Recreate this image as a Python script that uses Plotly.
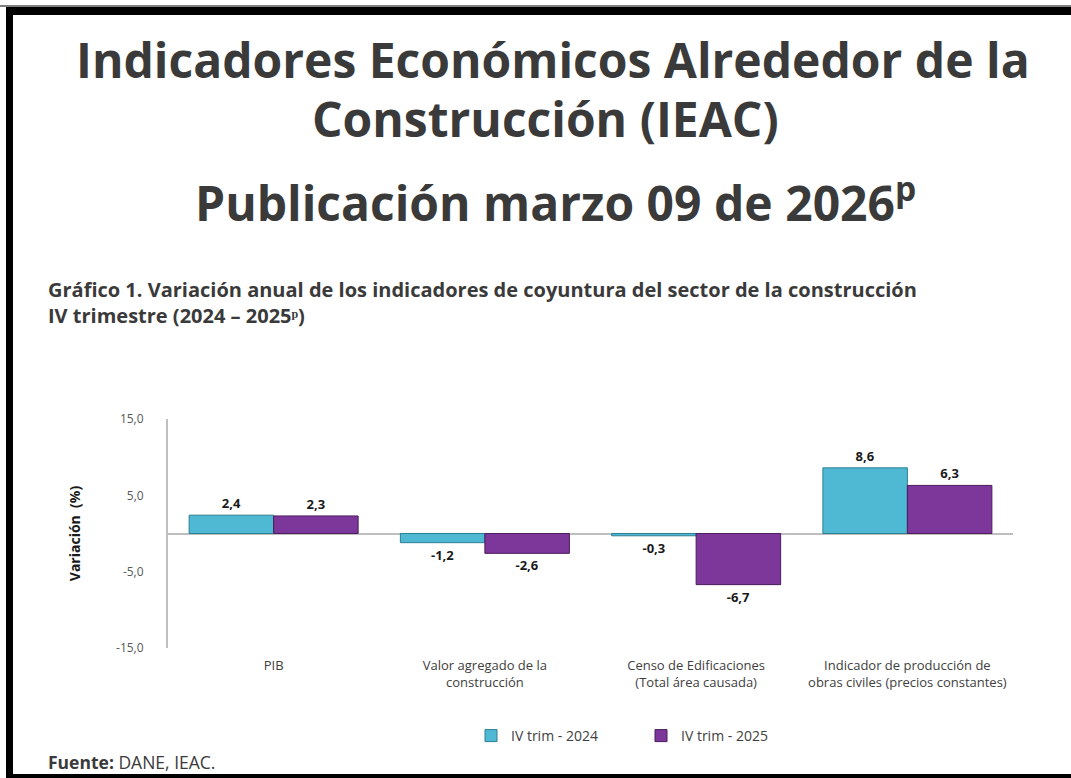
import plotly.graph_objects as go

categories = [
    "PIB",
    "Valor agregado de la<br>construcción",
    "Censo de Edificaciones<br>(Total área causada)",
    "Indicador de producción de<br>obras civiles (precios constantes)",
]
trim_2024 = [2.4, -1.2, -0.3, 8.6]
trim_2025 = [2.3, -2.6, -6.7, 6.3]
y_ticks = [15, 5, -5, -15]

W, H = 1071, 778
L, R, T, B = 168, 58, 419, 130


def px(x):
    return (x - L) / (W - L - R)


def py(y):
    return (H - B - y) / (H - T - B)


def fmt(v):
    return f"{v:.1f}".replace(".", ",")


fig = go.Figure()
fig.add_bar(
    x=categories, y=trim_2024, name="IV trim - 2024",
    marker=dict(color="#4fb8d2", line=dict(color="#2d7f93", width=1)),
    text=[fmt(v) for v in trim_2024], textposition="outside",
)
fig.add_bar(
    x=categories, y=trim_2025, name="IV trim - 2025",
    marker=dict(color="#7d3699", line=dict(color="#4a1d5c", width=1)),
    text=[fmt(v) for v in trim_2025], textposition="outside",
)
fig.update_traces(
    textfont=dict(family="Open Sans", size=13, color="#1a1a1a", weight="bold"),
    cliponaxis=False,
)

fig.update_layout(
    width=W, height=H,
    margin=dict(l=L, r=R, t=T, b=B),
    paper_bgcolor="white", plot_bgcolor="white",
    barmode="group", bargap=0.2, bargroupgap=0,
    separators=",.",
    font=dict(family="Open Sans", size=12, color="#404040"),
    showlegend=True,
    legend=dict(
        orientation="h", x=px(471), xanchor="left", y=py(736), yanchor="middle",
        font=dict(size=14, color="#404040"),
        entrywidth=125, entrywidthmode="pixels",
        traceorder="normal",
    ),
    xaxis=dict(
        showline=False, ticks="", tickfont=dict(size=13, color="#404040"),
        ticklabelstandoff=8,
    ),
    yaxis=dict(
        range=[-15, 15], tickvals=y_ticks, ticktext=[fmt(v) for v in y_ticks],
        showgrid=False, showline=True, linecolor="#bfbfbf", linewidth=2,
        zeroline=True, zerolinecolor="#bfbfbf", zerolinewidth=2,
        ticks="", tickfont=dict(size=12, color="#595959"),
        ticklabelstandoff=20,
        title=dict(text="<b>Variación  (%)</b>", font=dict(size=14, color="#1a1a1a"), standoff=32),
    ),
)

title_font = dict(family="Open Sans", size=48, color="#3a3a3a", weight="bold")
for text, x, y in [
    ("Indicadores Económicos Alrededor de la", 553, 60),
    ("Construcción (IEAC)", 545, 118),
    ("Publicación marzo 09 de 2026<sup>p</sup>", 555, 200),
]:
    fig.add_annotation(
        text=text, xref="paper", yref="paper", x=px(x), y=py(y),
        xanchor="center", yanchor="middle", showarrow=False, font=title_font,
    )

fig.add_annotation(
    text="Gráfico 1. Variación anual de los indicadores de coyuntura del sector de la construcción"
         "<br>IV trimestre (2024 – 2025ᵖ)",
    xref="paper", yref="paper", x=px(46), y=py(302), xanchor="left", yanchor="middle",
    align="left", showarrow=False,
    font=dict(family="Open Sans", size=20, color="#3a3a3a", weight="bold"),
)
fig.add_annotation(
    text="<b>Fuente:</b> DANE, IEAC.",
    xref="paper", yref="paper", x=px(46), y=py(762), xanchor="left", yanchor="middle",
    showarrow=False, font=dict(family="Open Sans", size=17.5, color="#3a3a3a"),
)

# frame around the page
for x0, y0, x1, y1, c in [
    (0, 5, W, 7, "#7f7f7f"),
    (6, 7, W, 15, "black"),
    (6, 7, 13, H, "black"),
    (6, 774, W, H, "black"),
]:
    fig.add_shape(
        type="rect", xref="paper", yref="paper",
        x0=px(x0), x1=px(x1), y0=py(y0), y1=py(y1),
        fillcolor=c, line=dict(width=0), layer="above",
    )

fig.write_html(
    "out.html",
    config={"displayModeBar": False},
    post_script="document.body.style.margin = '0';",
)
